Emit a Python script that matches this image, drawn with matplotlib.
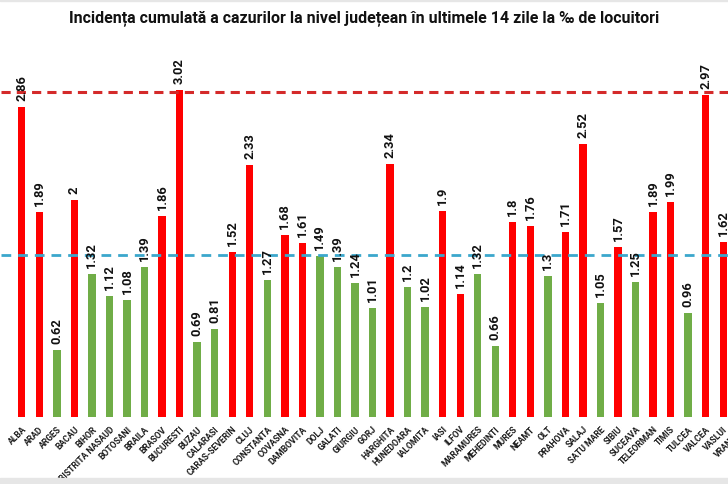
import matplotlib.pyplot as plt
from matplotlib.patches import Rectangle

judete = ['ALBA', 'ARAD', 'ARGES', 'BACAU', 'BIHOR', 'BISTRITA NASAUD', 'BOTOSANI',
          'BRAILA', 'BRASOV', 'BUCURESTI', 'BUZAU', 'CALARASI', 'CARAS-SEVERIN', 'CLUJ',
          'CONSTANTA', 'COVASNA', 'DAMBOVITA', 'DOLJ', 'GALATI', 'GIURGIU', 'GORJ',
          'HARGHITA', 'HUNEDOARA', 'IALOMITA', 'IASI', 'ILFOV', 'MARAMURES', 'MEHEDINTI',
          'MURES', 'NEAMT', 'OLT', 'PRAHOVA', 'SALAJ', 'SATU MARE', 'SIBIU', 'SUCEAVA',
          'TELEORMAN', 'TIMIS', 'TULCEA', 'VALCEA', 'VASLUI', 'VRANCEA']
incidenta = [2.86, 1.89, 0.62, 2, 1.32, 1.12, 1.08, 1.39, 1.86, 3.02, 0.69, 0.81, 1.52,
             2.33, 1.27, 1.68, 1.61, 1.49, 1.39, 1.24, 1.01, 2.34, 1.2, 1.02, 1.9, 1.14,
             1.32, 0.66, 1.8, 1.76, 1.3, 1.71, 2.52, 1.05, 1.57, 1.25, 1.89, 1.99, 0.96,
             2.97, 1.62, 1.4]
# 1 = bara rosie, 0 = bara verde
rosu = [1, 1, 0, 1, 0, 0, 0, 0, 1, 1, 0, 0, 1, 1, 0, 1, 1, 0, 0, 0, 0, 1, 0, 0, 1, 1,
        0, 0, 1, 1, 0, 1, 1, 0, 1, 0, 1, 1, 0, 1, 1, 1]
prag_rosu = 3.0
prag_albastru = 1.5

fonturi = ['Roboto', 'DejaVu Sans']

fig = plt.figure(figsize=(7.28, 4.85), dpi=100)
ax = fig.add_axes([0.001, 0.138, 1.031, 0.804])

x = list(range(len(judete)))
culori = ['#FF0000' if r else '#70AD47' for r in rosu]
ax.bar(x, incidenta, width=0.42, color=culori, zorder=2)

ax.axhline(prag_rosu, color='#D42A2A', lw=2.2, dashes=(3, 2), zorder=3)
ax.axhline(prag_albastru, color='#3BA7CC', lw=2.0, dashes=(3.5, 2.5), zorder=3)

for xi, v in zip(x, incidenta):
    ax.annotate('%g' % v, (xi, v), xytext=(0, 5), textcoords='offset points',
                rotation=90, ha='center', va='bottom', fontsize=9.3,
                fontweight='bold', family=fonturi, color='#111111')

ax.set_xlim(-1.2, 41.6)
ax.set_ylim(0, 3.6)
ax.set_xticks(x)
ax.set_xticklabels(judete, rotation=45, ha='right', rotation_mode='anchor',
                   fontsize=6.2, fontweight='bold', family=fonturi, color='#1a1a1a')
ax.tick_params(axis='x', length=0, pad=5)
ax.set_yticks([])
for s in ax.spines.values():
    s.set_visible(False)

fig.text(0.5, 0.962, 'Incidența cumulată a cazurilor la nivel județean în ultimele 14 zile la ‰ de locuitori',
         ha='center', va='center', fontsize=11.5, fontweight='bold', family=fonturi,
         color='#111111')

fig.add_artist(Rectangle((0, 0), 1, 0.012, transform=fig.transFigure, color='#E6E6E6'))
fig.add_artist(Rectangle((0, 0.995), 1, 0.005, transform=fig.transFigure, color='#E6E6E6'))

fig.savefig('out.png', dpi=100)
